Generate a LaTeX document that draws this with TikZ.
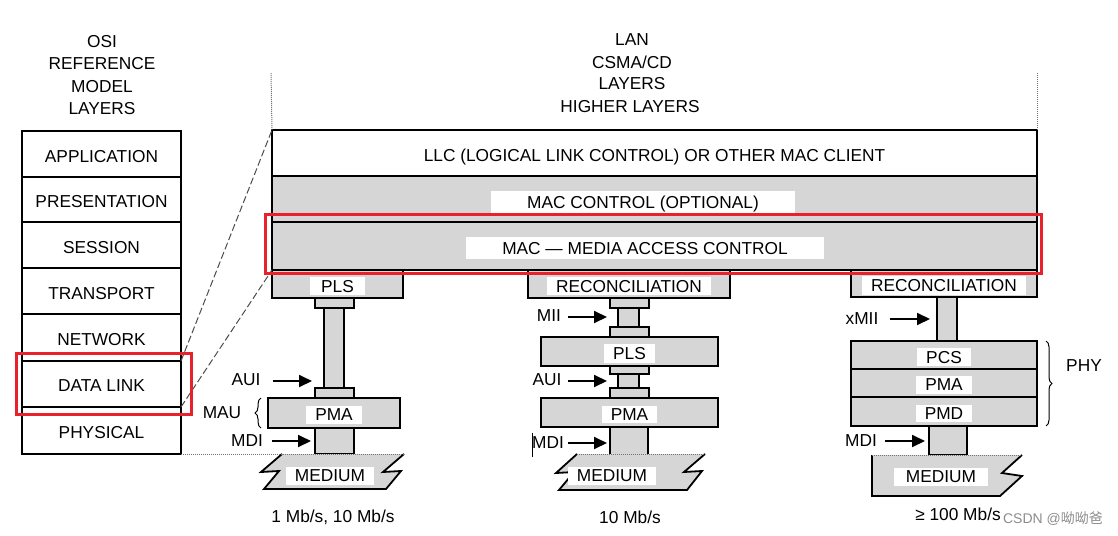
\documentclass[tikz,border=0pt]{standalone}
\usepackage{fontspec}
\setmainfont{Liberation Sans}
\newfontfamily\cjkfont{Noto Sans CJK SC}
\usetikzlibrary{arrows.meta,decorations.pathreplacing}
\definecolor{hl}{HTML}{E8212B}
\definecolor{shd}{HTML}{D6D6D6}
\newcommand\bx[6]{\node[#2, minimum width={(#5-#3)*1pt}, minimum height={(#6-#4)*1pt}] (#1) at ({(#3+#5)/2},{(#4+#6)/2}) {};}
\begin{document}
\begin{tikzpicture}[x=1pt,y=-1pt,
  font=\fontsize{17.3}{20}\selectfont,
  box/.style={draw, line width=1.8pt, inner sep=0pt, outer sep=0pt},
  sh/.style={box, fill=shd},
  wb/.style={box, fill=white},
  t/.style={text depth=0pt, yshift=-2pt},
  lbl/.style={t, fill=white, inner xsep=9pt, inner ysep=5pt},
  txt/.style={inner sep=0pt},
  arr/.style={line width=1.8pt, -{Triangle[length=13pt,width=12pt]}},
  dashln/.style={black!70, line width=1pt, dash pattern=on 7pt off 3pt},
  dotln/.style={black!55, line width=1pt, dash pattern=on 1pt off 1pt},
  redbox/.style={draw=hl, line width=3pt},
  brc/.style={line width=1pt, decorate, decoration={brace, amplitude=6pt}},
  medium/.style={fill=shd, line width=1.8pt, line join=miter}
]
\useasboundingbox (0,0) rectangle (1118,535);

% ---------- OSI column ----------
\node[txt] (osi1) at (102,42) {OSI};
\node[txt] (osi2) at (102,64) {REFERENCE};
\node[txt] (osi3) at (102,87) {MODEL};
\node[txt] (osi4) at (102,109) {LAYERS};

\bx{app}{wb}{22}{131}{181}{177}
\bx{pres}{wb}{22}{177}{181}{222}
\bx{ses}{wb}{22}{222}{181}{268}
\bx{tra}{wb}{22}{268}{181}{314}
\bx{net}{wb}{22}{314}{181}{361}
\bx{dl}{wb}{22}{361}{181}{407}
\bx{phys}{wb}{22}{407}{181}{454}
\node[t] at (app) {APPLICATION};
\node[t] at (pres) {PRESENTATION};
\node[t] at (ses) {SESSION};
\node[t] at (tra) {TRANSPORT};
\node[t] at (net) {NETWORK};
\node[t] at (dl) {DATA LINK};
\node[t] at (phys) {PHYSICAL};

% ---------- LAN header ----------
\node[txt] (lan1) at (632,40) {LAN};
\node[txt] (lan2) at (632,62) {CSMA/CD};
\node[txt] (lan3) at (632,84) {LAYERS};
\node[txt] (lan4) at (630,107) {HIGHER LAYERS};
\coordinate (vl1) at (271,73);
\coordinate (vr1) at (1037,73);

% ---------- column 1 connectors & boxes ----------
\bx{c1a}{sh}{315}{298}{354}{308}
\bx{s1a}{sh}{324}{308}{344}{388}
\bx{c1b}{sh}{315}{388}{354}{398}
\bx{s1b}{sh}{315}{428}{354}{454}
\bx{pls1}{sh}{272}{270}{403}{298}
\bx{pma1}{sh}{268}{398}{400}{428}

% ---------- column 2 ----------
\bx{c2a}{sh}{610}{298}{649}{308}
\bx{s2a}{sh}{618}{308}{639}{327}
\bx{c2b}{sh}{610}{327}{649}{337}
\bx{c2c}{sh}{610}{366}{649}{374}
\bx{s2b}{sh}{618}{374}{639}{388}
\bx{c2d}{sh}{610}{388}{649}{398}
\bx{s2c}{sh}{610}{427}{648}{455}
\bx{rec2}{sh}{528}{270}{730}{298}
\bx{pls2}{sh}{541}{337}{718}{366}
\bx{pma2}{sh}{541}{398}{718}{427}

% ---------- column 3 ----------
\bx{s3a}{sh}{937}{297}{957}{341}
\bx{s3b}{sh}{929}{426}{967}{455}
\bx{rec3}{sh}{851}{270}{1037}{297}
\bx{pcs}{sh}{851}{341}{1037}{369}
\bx{pma3}{sh}{851}{369}{1037}{397}
\bx{pmd}{sh}{851}{397}{1037}{426}

% ---------- LAN stack ----------
\bx{llc}{wb}{272}{130}{1037}{176}
\bx{macc}{sh}{272}{176}{1037}{222}
\bx{mac}{sh}{272}{222}{1037}{270}
\node[t] at (llc) {LLC (LOGICAL LINK CONTROL) OR OTHER MAC CLIENT};
\node[lbl, inner xsep=36pt] at (643,200) {MAC CONTROL (OPTIONAL)};
\node[lbl, inner xsep=36pt] at (645,246) {MAC \textemdash\ MEDIA ACCESS CONTROL};

\draw[dotln] (llc.north west) -- (vl1);
\draw[dotln] (llc.north east) -- (vr1);

% labels in boxes
\node[lbl, inner ysep=3pt, inner xsep=11pt] at (pls1) {PLS};
\node[lbl, inner ysep=3pt] at (pma1) {PMA};
\node[lbl, inner ysep=3pt] at (rec2) {RECONCILIATION};
\node[lbl, inner ysep=3pt] at (pls2) {PLS};
\node[lbl, inner ysep=3pt] at (pma2) {PMA};
\node[lbl, inner ysep=3pt] at (rec3) {RECONCILIATION};
\node[lbl, inner ysep=3pt] at (pcs) {PCS};
\node[lbl, inner ysep=3pt] at (pma3) {PMA};
\node[lbl, inner ysep=3pt] at (pmd) {PMD};

% ---------- media ----------
% medium 1
\fill[shd] (282,454) -- (404,454) -- (383,472) -- (401,471) -- (386,489) -- (264,489) -- (279,471) -- (261,472) -- cycle;
\draw[medium] (404,454) -- (383,472) -- (401,471) -- (386,489) -- (264,489) -- (279,471) -- (261,472) -- (282,454);
\node[lbl, inner ysep=3pt] (med1) at (330,474) {MEDIUM};
% medium 2
\fill[shd] (577,454) -- (705,454) -- (684,472) -- (702,471) -- (687,490) -- (559,490) -- (574,472) -- (556,473) -- cycle;
\draw[medium] (705,454) -- (684,472) -- (702,471) -- (687,490) -- (559,490) -- (574,472) -- (556,473) -- (577,454);
\node[lbl, inner ysep=3pt] (med2) at (612,474) {MEDIUM};
% medium 3
\fill[shd] (872,455) -- (1022,455) -- (1002,473) -- (1022,476) -- (1000,496) -- (872,496) -- cycle;
\draw[medium] (1022,455) -- (1002,473) -- (1022,476) -- (1000,496) -- (872,496) -- (872,455);
\node[lbl, inner ysep=3pt, inner xsep=12pt] (med3) at (941,475) {MEDIUM};

% top edges of media (dotted) and link from OSI stack
\draw[dotln] (phys.south east) -- (404,454);
\draw[dotln] (577,454) -- (705,454);
\draw[dotln] (872,455) -- (1022,455);

% ---------- interface labels & arrows ----------
\node[txt] (aui1) at (246,380) {AUI};
\node[txt] (mau1) at (222,413) {MAU};
\node[txt] (mdi1) at (247,441) {MDI};
\coordinate (aui1a) at (273,381); \coordinate (aui1b) at (312,381);
\coordinate (mdi1a) at (272,441); \coordinate (mdi1b) at (311,441);
\draw[arr] (aui1a) -- (aui1b);
\draw[arr] (mdi1a) -- (mdi1b);
\draw[brc] (261,428) -- (261,398);

\node[txt] (mii2) at (549,316) {MII};
\node[txt] (aui2) at (547,380) {AUI};
\node[txt] (mdi2) at (548,443) {MDI};
\coordinate (mii2a) at (568,317); \coordinate (mii2b) at (607,317);
\coordinate (aui2a) at (568,381); \coordinate (aui2b) at (607,381);
\coordinate (mdi2a) at (568,443); \coordinate (mdi2b) at (607,443);
\draw[arr] (mii2a) -- (mii2b);
\draw[arr] (aui2a) -- (aui2b);
\draw[arr] (mdi2a) -- (mdi2b);
\coordinate (cur1) at (532,433); \coordinate (cur2) at (532,457);
\draw[line width=0.8pt] (cur1) -- (cur2);

\node[txt] (xmii3) at (862,319) {xMII};
\node[txt] (mdi3) at (861,441) {MDI};
\coordinate (xmii3a) at (890,319); \coordinate (xmii3b) at (930,319);
\coordinate (mdi3a) at (885,441); \coordinate (mdi3b) at (925,441);
\draw[arr] (xmii3a) -- (xmii3b);
\draw[arr] (mdi3a) -- (mdi3b);
\draw[brc] (1046,341) -- (1046,426);
\node[txt] (phy) at (1084,366) {PHY};

% ---------- speed labels ----------
\node[txt] (sp1) at (333,517) {1 Mb/s, 10 Mb/s};
\node[txt] (sp2) at (630,517) {10 Mb/s};
\node[txt] (sp3) at (958,514) {≥ 100 Mb/s};
\node[txt, text=black!45, font=\fontsize{14}{16}\selectfont] (wm) at (1053,519) {CSDN @{\cjkfont 呦呦爸}};

% ---------- dashed expansion lines ----------
\draw[dashln] (dl.north east) -- (llc.north west);
\draw[dashln] (dl.south east) -- (mac.south west);

% ---------- red highlight boxes ----------
\node[redbox, minimum width=175pt, minimum height=61pt, inner sep=0pt] (hl1) at (103.5,383.5) {};
\node[redbox, minimum width=776pt, minimum height=59pt, inner sep=0pt] (hl2) at (653,243.5) {};
\end{tikzpicture}
\end{document}
